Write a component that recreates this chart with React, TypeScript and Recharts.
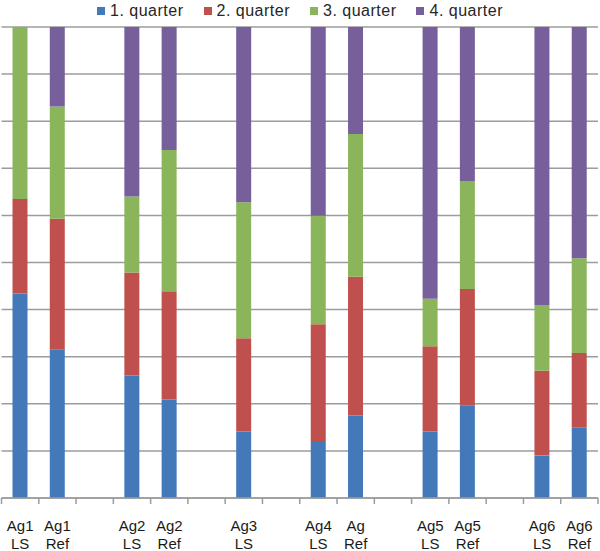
import { BarChart, Bar, XAxis, YAxis, CartesianGrid } from "recharts";

const categories = ["Ag1 LS", "Ag1 Ref", "", "Ag2 LS", "Ag2 Ref", "", "Ag3 LS", "", "Ag4 LS", "Ag Ref", "", "Ag5 LS", "Ag5 Ref", "", "Ag6 LS", "Ag6 Ref"];
const q1 = [43.4, 31.6, null, 26.0, 20.9, null, 14.1, null, 11.9, 17.5, null, 14.1, 19.7, null, 9.0, 14.9];
const q2 = [20.1, 27.7, null, 21.9, 23.0, null, 19.8, null, 25.0, 29.5, null, 18.1, 24.7, null, 18.0, 15.9];
const q3 = [36.5, 23.8, null, 16.1, 30.0, null, 28.9, null, 23.0, 30.3, null, 10.1, 22.8, null, 14.0, 20.1];
const q4 = [0, 16.9, null, 36.0, 26.1, null, 37.2, null, 40.1, 22.7, null, 57.7, 32.8, null, 59.0, 49.1];
const yTicks = [0, 10, 20, 30, 40, 50, 60, 70, 80, 90, 100];

const series = [
  { key: "q1", name: "1. quarter", color: "#4379b9" },
  { key: "q2", name: "2. quarter", color: "#c0504d" },
  { key: "q3", name: "3. quarter", color: "#8bb55a" },
  { key: "q4", name: "4. quarter", color: "#765f9a" },
];

const data = categories.map((label, i) => ({
  idx: i,
  q1: q1[i],
  q2: q2[i],
  q3: q3[i],
  q4: q4[i],
}));

const FONT = "'Liberation Sans', Arial, sans-serif";
const GRID = "#9c9c9c";

function CategoryTick(props: any) {
  const { x, y, payload, index } = props;
  const half = payload.offset || 18.65;
  const lines = (categories[payload.value] || "").split(" ").filter(Boolean);
  return (
    <g>
      <line x1={x - half} x2={x - half} y1={y} y2={y + 6} stroke={GRID} strokeWidth={1.5} />
      {index === categories.length - 1 && (
        <line x1={x + half} x2={x + half} y1={y} y2={y + 6} stroke={GRID} strokeWidth={1.5} />
      )}
      {lines.map((t: string, k: number) => (
        <text key={k} x={x} y={y + 33 + k * 17.8} textAnchor="middle" fontSize={15} fontFamily={FONT} fill="#1a1a1a">
          {t}
        </text>
      ))}
    </g>
  );
}

function LegendBox() {
  return (
    <div
      style={{
        position: "absolute",
        top: 1,
        left: 0,
        width: 600,
        display: "flex",
        justifyContent: "center",
        fontFamily: FONT,
        fontSize: 16,
        letterSpacing: 0.5,
        color: "#262626",
        lineHeight: "19px",
      }}
    >
      {series.map((s, i) => (
        <div key={s.key} style={{ display: "flex", alignItems: "center", marginLeft: i === 0 ? 0 : 20 }}>
          <span style={{ width: 8, height: 8, background: s.color, display: "inline-block", marginRight: 5 }} />
          <span>{s.name}</span>
        </div>
      ))}
    </div>
  );
}

export default function App() {
  return (
    <div style={{ position: "absolute", left: 0, top: 0, width: 600, height: 551, background: "#fff" }}>
      <BarChart width={600} height={551} data={data} margin={{ top: 27, right: 2, left: 1.5, bottom: 0 }}>
        <CartesianGrid vertical={false} stroke={GRID} strokeWidth={1.5} />
        <XAxis
          dataKey="idx"
          type="category"
          height={53}
          tickSize={0}
          tickMargin={0}
          tickLine={false}
          interval={0}
          axisLine={{ stroke: GRID, strokeWidth: 1.5 }}
          tick={<CategoryTick />}
        />
        <YAxis hide domain={[0, 100]} ticks={yTicks} allowDataOverflow />
        {series.map((s) => (
          <Bar key={s.key} dataKey={s.key} name={s.name} stackId="a" fill={s.color} barSize={15} isAnimationActive={false} />
        ))}
      </BarChart>
      <LegendBox />
    </div>
  );
}
